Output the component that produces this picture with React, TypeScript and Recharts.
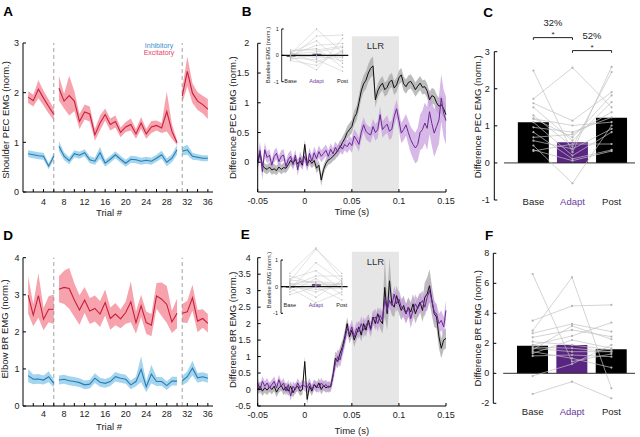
import React from 'react';
import {
  ComposedChart, Line, Area, Bar, Cell, XAxis, YAxis,
  ReferenceLine, ReferenceArea, ReferenceDot,
} from 'recharts';

const FONT = '"Liberation Sans", Arial, Helvetica, sans-serif';
const TXT = '#222';
const RED = '#c71f3e';
const RED_BAND = '#f7a3ad';
const BLUE = '#2a7cb2';
const BLUE_BAND = '#a4d5ee';
const PURPLE = '#6b2a93';
const PURPLE_BAND = '#c9a2df';
const PURPLE_BAR = '#5a2483';
const PURPLE_TXT = '#6f3a9c';
const GREY_BAND = '#ababab';

// ---------- A / D : EMG per trial ----------
const TRIALS = [1, 2, 3, 4, 5, 6, 7, 8, 9, 10, 11, 12, 13, 14, 15, 16, 17, 18, 19, 20, 21, 22, 23, 24, 25, 26, 27, 28, 29, 30, 31, 32, 33, 34, 35, 36];
const BLOCK_ENDS = [6, 30];
const BLOCK_EDGES = [6, 31];
const TRIAL_TICKS = [2, 4, 6, 8, 10, 12, 14, 16, 18, 20, 22, 24, 26, 28, 30, 32, 34, 36];

const A_EXC = [1.91, 1.84, 2.07, 1.89, 1.72, 1.56,
  2.09, 1.83, 1.94, 1.83, 1.42, 1.61, 1.57, 1.15, 1.39, 1.56, 1.36, 1.42, 1.2, 1.31, 1.36, 1.17, 1.39, 1.17, 1.31, 1.34, 1.29, 1.62, 1.22, 0.99,
  1.93, 2.43, 1.99, 1.83, 1.76, 1.67];
const A_EXC_SE = [0.12, 0.12, 0.18, 0.15, 0.14, 0.12,
  0.25, 0.15, 0.4, 0.2, 0.15, 0.15, 0.15, 0.12, 0.15, 0.12, 0.12, 0.12, 0.1, 0.1, 0.12, 0.1, 0.12, 0.1, 0.12, 0.1, 0.1, 0.4, 0.15, 0.05,
  0.15, 0.3, 0.2, 0.18, 0.18, 0.2];
const A_INH = [0.77, 0.75, 0.73, 0.72, 0.52, 0.72,
  0.92, 0.72, 0.63, 0.77, 0.74, 0.79, 0.65, 0.62, 0.79, 0.58, 0.66, 0.75, 0.66, 0.58, 0.66, 0.65, 0.62, 0.64, 0.62, 0.68, 0.75, 0.6, 0.68, 0.85,
  0.82, 0.85, 0.72, 0.7, 0.68, 0.68];
const A_INH_SE = [0.07, 0.07, 0.07, 0.07, 0.06, 0.07,
  0.1, 0.08, 0.07, 0.07, 0.07, 0.07, 0.07, 0.07, 0.12, 0.07, 0.07, 0.07, 0.07, 0.07, 0.07, 0.07, 0.07, 0.07, 0.07, 0.07, 0.08, 0.08, 0.08, 0.1,
  0.08, 0.1, 0.07, 0.06, 0.06, 0.06];

const D_EXC = [2.99, 2.45, 2.98, 2.34, 2.61, 2.61,
  3.15, 3.2, 3.17, 2.86, 2.59, 2.86, 2.56, 2.63, 2.48, 2.79, 2.36, 2.48, 2.35, 2.52, 2.81, 2.25, 2.7, 2.25, 2.18, 2.97, 2.88, 2.74, 2.27, 2.5,
  2.5, 2.54, 2.92, 2.29, 2.36, 2.23];
const D_EXC_SE = [0.5, 0.3, 0.6, 0.3, 0.35, 0.4,
  0.35, 0.45, 0.55, 0.45, 0.4, 0.35, 0.35, 0.35, 0.35, 0.35, 0.3, 0.3, 0.25, 0.3, 0.55, 0.3, 0.3, 0.3, 0.3, 0.35, 0.45, 0.5, 0.3, 0.4,
  0.25, 0.3, 0.35, 0.3, 0.25, 0.25];
const D_INH = [0.82, 0.72, 0.73, 0.7, 0.79, 0.61,
  0.7, 0.72, 0.68, 0.66, 0.63, 0.57, 0.59, 0.75, 0.64, 0.61, 0.66, 0.79, 0.75, 0.72, 0.57, 0.66, 0.99, 0.52, 0.86, 0.66, 0.66, 0.55, 0.67, 0.67,
  0.68, 0.79, 1.02, 0.76, 0.79, 0.75];
const D_INH_SE = [0.18, 0.13, 0.13, 0.12, 0.15, 0.12,
  0.12, 0.12, 0.12, 0.12, 0.12, 0.12, 0.12, 0.13, 0.12, 0.12, 0.12, 0.13, 0.12, 0.12, 0.12, 0.13, 0.35, 0.15, 0.25, 0.12, 0.12, 0.12, 0.12, 0.12,
  0.12, 0.15, 0.2, 0.13, 0.12, 0.12];

// ---------- B / E : difference EMG traces ----------
const TIME_MS = Array.from({ length: 81 }, (_, i) => -50 + i * 2.5); // 2.5 ms sample grid
const LLR = [0.05, 0.1];

const B_BLACK = [
  0.0, 0.15, -0.05, -0.1, -0.12, -0.08, -0.13, -0.11, -0.14, -0.08,
  -0.12, -0.09, -0.1, -0.04, 0.03, -0.02, 0.05, -0.03, 0.02, -0.05,
  0.3, -0.04, 0.04, -0.02, 0.03, -0.1, -0.05, -0.3, -0.12, -0.02,
  0.04, 0.06, 0.1, 0.14, 0.2, 0.25, 0.33, 0.4, 0.5, 0.55,
  0.6, 0.75, 0.82, 1.0, 1.2, 1.32, 1.38, 1.5, 1.58, 1.62,
  1.05, 1.2, 1.28, 1.33, 1.22, 1.26, 1.35, 1.38, 1.25, 1.3,
  1.42, 1.47, 1.32, 1.27, 1.34, 1.36, 1.3, 1.22, 1.28, 1.33,
  1.26, 1.27, 1.2, 1.05, 1.12, 1.1, 1.0, 0.94, 0.97, 0.9,
  0.8];
const B_BLACK_SE = [
  0.1, 0.1, 0.08, 0.08, 0.08, 0.08, 0.08, 0.08, 0.08, 0.08,
  0.08, 0.08, 0.08, 0.08, 0.08, 0.08, 0.08, 0.08, 0.08, 0.08,
  0.08, 0.08, 0.08, 0.08, 0.08, 0.08, 0.08, 0.1, 0.08, 0.08,
  0.08, 0.08, 0.08, 0.09, 0.09, 0.1, 0.1, 0.1, 0.1, 0.11,
  0.11, 0.12, 0.12, 0.13, 0.14, 0.14, 0.15, 0.15, 0.16, 0.16,
  0.13, 0.12, 0.12, 0.12, 0.12, 0.12, 0.12, 0.12, 0.12, 0.12,
  0.12, 0.12, 0.12, 0.12, 0.12, 0.12, 0.12, 0.12, 0.12, 0.12,
  0.12, 0.12, 0.12, 0.13, 0.13, 0.13, 0.14, 0.14, 0.15, 0.15,
  0.15];
const B_PURPLE = [
  0.02, 0.2, -0.16, 0.21, 0.08, 0.12, -0.05, 0.1, 0.15, 0.01,
  0.1, 0.12, -0.07, 0.05, 0.1, -0.04, 0.12, -0.13, 0.08, -0.02,
  0.1, -0.06, 0.15, 0.02, 0.16, 0.06, 0.18, 0.1, 0.15, 0.2,
  0.1, 0.22, 0.14, 0.25, 0.18, 0.28, 0.22, 0.3, 0.26, 0.33,
  0.28, 0.44, 0.38, 0.3, 0.5, 0.63, 0.52, 0.48, 0.46, 0.6,
  0.5, 0.55, 0.8, 0.55, 0.6, 0.64, 0.52, 0.56, 0.77, 0.9,
  0.7, 0.49, 0.55, 0.63, 0.5, 0.38, 0.3, 0.24, 0.3, 0.5,
  0.55, 0.66, 0.57, 0.85, 0.65, 0.49, 0.6, 0.71, 1.08, 0.82,
  0.7];
const B_PURPLE_SE = [
  0.12, 0.14, 0.14, 0.12, 0.1, 0.1, 0.1, 0.1, 0.1, 0.1,
  0.1, 0.1, 0.1, 0.1, 0.1, 0.1, 0.1, 0.1, 0.1, 0.1,
  0.1, 0.1, 0.1, 0.1, 0.1, 0.1, 0.1, 0.1, 0.1, 0.1,
  0.1, 0.1, 0.1, 0.1, 0.1, 0.1, 0.1, 0.1, 0.11, 0.11,
  0.12, 0.12, 0.12, 0.12, 0.13, 0.13, 0.13, 0.13, 0.13, 0.13,
  0.14, 0.14, 0.14, 0.14, 0.14, 0.15, 0.15, 0.15, 0.15, 0.15,
  0.16, 0.17, 0.18, 0.18, 0.2, 0.22, 0.24, 0.26, 0.28, 0.3,
  0.32, 0.34, 0.36, 0.38, 0.38, 0.4, 0.4, 0.4, 0.4, 0.4,
  0.4];

const E_BLACK = [
  0.0, 0.1, -0.05, 0.05, -0.02, 0.08, 0.0, 0.1, -0.08, 0.05,
  0.12, -0.02, 0.08, -0.05, 0.1, -0.1, 0.05, 0.1, -0.05, 0.0,
  0.85, -0.3, 0.1, -0.05, 0.15, 0.05, 0.2, 0.0, 0.12, 0.05,
  0.1, 0.08, 0.45, 0.95, 0.85, 1.1, 1.3, 1.6, 2.0, 1.6,
  1.8, 1.5, 1.7, 1.9, 1.65, 2.0, 1.8, 2.1, 1.85, 2.2,
  2.0, 2.3, 2.1, 2.0, 3.1, 2.3, 3.3, 2.6, 2.5, 2.85,
  2.6, 2.4, 2.55, 2.3, 2.5, 2.35, 2.6, 2.3, 2.5, 2.65,
  2.4, 2.8, 2.9, 3.15, 2.7, 2.3, 2.2, 1.6, 1.25, 1.5,
  1.55];
const E_BLACK_SE = [
  0.15, 0.15, 0.15, 0.15, 0.15, 0.15, 0.15, 0.15, 0.15, 0.15,
  0.15, 0.15, 0.15, 0.15, 0.15, 0.15, 0.15, 0.15, 0.15, 0.15,
  0.15, 0.15, 0.15, 0.15, 0.15, 0.15, 0.15, 0.15, 0.15, 0.15,
  0.15, 0.15, 0.2, 0.2, 0.2, 0.2, 0.2, 0.2, 0.2, 0.2,
  0.2, 0.2, 0.2, 0.2, 0.2, 0.2, 0.2, 0.2, 0.2, 0.2,
  0.2, 0.2, 0.25, 0.3, 0.9, 0.5, 0.7, 0.35, 0.3, 0.3,
  0.3, 0.3, 0.3, 0.3, 0.3, 0.3, 0.3, 0.3, 0.3, 0.3,
  0.35, 0.45, 0.5, 0.5, 0.45, 0.4, 0.35, 0.35, 0.3, 0.3,
  0.3];
const E_PURPLE = [
  0.2, 0.0, 0.25, 0.1, 0.2, 0.05, 0.15, 0.25, 0.05, 0.3,
  0.1, 0.2, -0.05, 0.15, -0.2, 0.1, 0.0, 0.2, 0.05, 0.15,
  0.1, 0.05, 0.2, 0.0, 0.15, 0.1, 0.05, 0.2, 0.1, 0.15,
  0.05, 0.1, 0.4, 0.8, 1.0, 0.9, 1.2, 1.5, 1.85, 1.7,
  1.9, 1.6, 1.85, 1.75, 2.0, 1.8, 1.95, 2.05, 1.8, 2.15,
  2.2, 2.0, 2.25, 2.1, 2.75, 2.4, 2.7, 2.55, 2.9, 2.6,
  2.75, 2.5, 2.45, 2.3, 2.5, 2.15, 2.4, 2.6, 2.45, 2.6,
  2.7, 2.5, 2.8, 3.0, 2.7, 2.35, 2.3, 2.0, 2.1, 1.9,
  2.4];
const E_PURPLE_SE = [
  0.15, 0.15, 0.15, 0.15, 0.15, 0.15, 0.15, 0.15, 0.15, 0.15,
  0.15, 0.15, 0.15, 0.15, 0.15, 0.15, 0.15, 0.15, 0.15, 0.15,
  0.15, 0.15, 0.15, 0.15, 0.15, 0.15, 0.15, 0.15, 0.15, 0.15,
  0.15, 0.15, 0.2, 0.22, 0.22, 0.22, 0.22, 0.22, 0.22, 0.22,
  0.22, 0.22, 0.22, 0.22, 0.22, 0.22, 0.22, 0.22, 0.22, 0.22,
  0.25, 0.25, 0.25, 0.25, 0.25, 0.25, 0.25, 0.25, 0.25, 0.25,
  0.28, 0.28, 0.28, 0.28, 0.28, 0.28, 0.28, 0.28, 0.28, 0.28,
  0.3, 0.3, 0.3, 0.3, 0.3, 0.3, 0.3, 0.3, 0.3, 0.3,
  0.3];

// ---------- insets: baseline EMG per subject ----------
const COND = ['Base', 'Adapt', 'Post'];
const COND_X = [1, 2, 3];

const B_INSET_BASE = [0.05, -0.1, 0.1, -0.05, 0.0, 0.15, -0.2, 0.05, -0.15, 0.1, 0.0, -0.1, 0.2, -0.05, 0.08];
const B_INSET_ADAPT = [1.0, 0.73, 0.55, -0.55, 0.38, 0.26, -0.38, 0.13, 0.06, -0.26, -0.04, -0.17, 0.2, 0.0, -0.1];
const B_INSET_POST = [0.1, 0.77, -0.3, 0.64, 0.45, -0.45, 0.2, 0.3, -0.1, 0.15, 0.05, -0.6, 0.35, -0.2, -0.05];
const B_INSET_MEAN = [-0.05, 0.06, 0.01];

const E_INSET_BASE = [0.5, 0.2, -0.1, 0.3, 0.0, -0.2, 0.1, 0.4, -0.3, 0.05, 0.15, -0.05, 0.25, 0.1, 0.0];
const E_INSET_ADAPT = [1.45, 1.4, 0.9, 0.6, 0.4, 0.3, 0.2, 0.1, 0.0, -0.2, -0.4, -0.6, 0.15, 0.05, -0.1];
const E_INSET_POST = [0.3, 0.5, 0.2, -0.1, 0.4, -0.3, 0.1, 0.0, -0.5, 0.15, 0.25, -0.2, 0.05, 0.1, -0.05];
const E_INSET_MEAN = [-0.03, 0.1, 0.01];

// ---------- C / F : LLR amplitude per subject ----------
const C_BASE = [2.49, 1.73, 1.5, 1.61, 1.28, 1.19, 1.1, 0.96, 0.83, 0.69, 0.6, 0.47, 0.35, 0.32, 1.2];
const C_ADAPT = [0.29, 2.57, 0.6, 1.14, 0.44, 1.01, 0.2, 0.83, 0.11, 0.77, 0.38, -0.55, 0.06, 0.51, 0.69];
const C_POST = [2.59, 1.5, 1.64, 1.91, 2.45, 1.1, 0.83, 1.23, 0.35, 1.37, 0.92, 1.01, 0.32, 0.51, 1.82];
const C_MEAN = [1.1, 0.56, 1.22];
const C_BRACKETS = [
  { from: 1, to: 2, y: 3.38, pct: '32%' },
  { from: 2, to: 3, y: 3.03, pct: '52%' },
];

const F_BASE = [6.62, 2.84, 3.51, 2.67, 2.4, 2.11, 1.89, 1.67, 1.56, 1.44, 1.33, 1.16, -0.18, -1.38, 1.75];
const F_ADAPT = [0.78, 6.4, 4.49, 3.29, 2.89, 1.89, 2.49, 1.44, 3.16, 1.0, 2.22, 1.22, 0.62, -0.56, 1.67];
const F_POST = [1.29, -1.0, 4.56, 2.78, 2.44, 1.56, 3.38, 1.44, 2.27, 0.38, 1.67, 1.11, 1.89, -1.67, 1.44];
const F_MEAN = [1.84, 1.89, 1.6];

// ---------- helpers ----------
const band = (v: number, se: number) => [v - se, v + se];

function trialRows(exc: number[], excSe: number[], inh: number[], inhSe: number[]) {
  const rows: any[] = [];
  TRIALS.forEach((t, i) => {
    rows.push({ t, exc: exc[i], inh: inh[i], excBand: band(exc[i], excSe[i]), inhBand: band(inh[i], inhSe[i]) });
    if (BLOCK_ENDS.includes(t)) rows.push({ t: t + 0.5 }); // break the lines between blocks
  });
  return rows;
}

function traceRows(bk: number[], bkSe: number[], pu: number[], puSe: number[]) {
  return TIME_MS.map((ms, i) => ({
    t: ms / 1000,
    bk: bk[i],
    pu: pu[i],
    bkBand: band(bk[i], bkSe[i]),
    puBand: band(pu[i], puSe[i]),
  }));
}

function condRows(subj: number[][], means: number[]) {
  return COND.map((name, i) => {
    const row: any = { x: COND_X[i], name, mean: means[i] };
    subj[i].forEach((v, k) => { row['s' + k] = v; });
    return row;
  });
}

const yTitle = (text: string, dx: number, dy = 0, size = 9.5) => (props: any) => {
  const vb = props.viewBox;
  const x = vb.x + dx;
  const y = vb.y + vb.height / 2 + dy;
  return (
    <text x={x} y={y} transform={`rotate(-90, ${x}, ${y})`} textAnchor="middle" dominantBaseline="central" fontSize={size} fill={TXT}>
      {text}
    </text>
  );
};

const xTitle = (text: string, dy: number, dx = 0) => (props: any) => {
  const vb = props.viewBox;
  return (
    <text x={vb.x + vb.width / 2 + dx} y={vb.y + dy} textAnchor="middle" dominantBaseline="central" fontSize={9.5} fill={TXT}>
      {text}
    </text>
  );
};

const condTick = (size: number) => (props: any) => {
  const { x, y, payload } = props;
  const name = COND[payload.value - 1];
  return (
    <text x={x} y={y} dy="0.71em" textAnchor="middle" fontSize={size} fill={name === 'Adapt' ? PURPLE_TXT : TXT}>
      {name}
    </text>
  );
};

const TICK = { fontSize: 9, fill: TXT };
const SUBJ_KEYS = C_BASE.map((_, k) => 's' + k);

function TrialPanel(p: any) {
  const rows = trialRows(p.exc, p.excSe, p.inh, p.inhSe);
  return (
    <div style={{ position: 'absolute', left: p.left, top: p.top }}>
      <ComposedChart width={220} height={p.height} data={rows} margin={{ top: p.mt, right: 7, bottom: 0, left: 0 }}>
        <XAxis type="number" dataKey="t" domain={[0, 37]} ticks={TRIAL_TICKS} interval={0}
          tickFormatter={(v: number) => (v % 4 === 0 ? String(v) : '')}
          stroke="#000" tick={TICK} tickSize={-3} tickMargin={p.xTickMargin} height={p.xh}
          label={xTitle('Trial #', p.xTitleDy, -9)} />
        <YAxis type="number" domain={[0, p.yMax]} ticks={p.yTicks} allowDataOverflow
          stroke="#000" tick={TICK} tickSize={-3} tickMargin={p.yTickMargin} width={23}
          label={yTitle(p.title, 5, p.titleDy)} />
        {BLOCK_EDGES.map((x) => (
          <ReferenceLine key={x} x={x} stroke="#8a8a8a" strokeWidth={0.8} strokeDasharray="4 3" />
        ))}
        <Area dataKey="excBand" stroke="none" fill={RED_BAND} fillOpacity={1} isAnimationActive={false} />
        <Line dataKey="exc" stroke={RED} strokeWidth={1.1} dot={false} isAnimationActive={false} />
        <Area dataKey="inhBand" stroke="none" fill={BLUE_BAND} fillOpacity={1} isAnimationActive={false} />
        <Line dataKey="inh" stroke={BLUE} strokeWidth={1.1} dot={false} isAnimationActive={false} />
      </ComposedChart>
    </div>
  );
}

function TracePanel(p: any) {
  const rows = traceRows(p.bk, p.bkSe, p.pu, p.puSe);
  return (
    <div style={{ position: 'absolute', left: 210, top: p.top }}>
      <ComposedChart width={250} height={p.height} data={rows} margin={{ top: p.mt, right: 14, bottom: 0, left: 0 }}>
        <XAxis type="number" dataKey="t" domain={[-0.05, 0.15]} ticks={[-0.05, 0, 0.05, 0.1, 0.15]} interval={0}
          stroke="#000" tick={TICK} tickSize={-3} tickMargin={8.8} height={p.xh}
          label={xTitle('Time (s)', p.xTitleDy)} />
        <YAxis type="number" domain={p.yDomain} ticks={p.yTicks} interval={0} allowDataOverflow
          stroke="#000" tick={TICK} tickSize={-3} tickMargin={p.yTickMargin} width={47.7}
          label={yTitle(p.title, 23, p.titleDy)} />
        <ReferenceArea x1={LLR[0]} x2={LLR[1]} y1={p.yDomain[0]} y2={p.llrTop} ifOverflow="visible"
          fill="#e6e6e6" fillOpacity={1} stroke="none"
          label={{ value: 'LLR', position: 'insideTop', offset: p.llrOffset, fontSize: 9.5, fill: '#333' }} />
        <Area dataKey="bkBand" stroke="none" fill={GREY_BAND} fillOpacity={0.8} isAnimationActive={false} />
        <Area dataKey="puBand" stroke="none" fill={PURPLE_BAND} fillOpacity={0.75} isAnimationActive={false} />
        <Line dataKey="bk" stroke="#111" strokeWidth={1} dot={false} isAnimationActive={false} />
        <Line dataKey="pu" stroke={PURPLE} strokeWidth={1} dot={false} isAnimationActive={false} />
      </ComposedChart>
    </div>
  );
}

function Inset(p: any) {
  const rows = condRows([p.base, p.adapt, p.post], p.means);
  const x0 = 0.66;
  return (
    <div style={{ position: 'absolute', left: 255, top: p.top }}>
      <ComposedChart width={100} height={80} data={rows} margin={{ top: p.mt, right: p.mr, bottom: 0, left: 0 }}>
        <XAxis type="number" dataKey="x" domain={[x0, 3.22]} ticks={COND_X} interval={0}
          axisLine={false} tickLine={false} tickSize={0} tickMargin={p.xTickMargin} height={p.xh} tick={condTick(5.5)} />
        <YAxis type="number" domain={[-1, 1.5]} ticks={[-1, 0, 1]} interval={0} axisLine={false}
          stroke="#000" tick={{ fontSize: 5.5, fill: TXT }} tickSize={-2} tickMargin={5} width={p.yw}
          label={yTitle('Baseline EMG (norm.)', 13.5, p.titleDy, 5.7)} />
        <ReferenceLine segment={[{ x: x0, y: -1 }, { x: x0, y: 1 }]} stroke="#000" strokeWidth={0.8} />
        {SUBJ_KEYS.map((k) => (
          <Line key={k} dataKey={k} stroke="#c4c4c4" strokeWidth={0.5}
            dot={{ r: 0.7, fill: '#b0b0b0', stroke: 'none' }} isAnimationActive={false} />
        ))}
        <ReferenceLine y={0} stroke="#111" strokeWidth={1.2} />
        <Bar dataKey="mean" barSize={9} isAnimationActive={false}>
          {rows.map((r) => (
            <Cell key={r.name} fill={r.name === 'Adapt' ? PURPLE_BAR : r.name === 'Base' ? '#111' : '#666'} />
          ))}
        </Bar>
      </ComposedChart>
    </div>
  );
}

function BarPanel(p: any) {
  const rows = condRows([p.base, p.adapt, p.post], p.means);
  return (
    <div style={{ position: 'absolute', left: 450, top: p.top }}>
      <ComposedChart width={190} height={p.height} data={rows} margin={{ top: p.mt, right: 3, bottom: 0, left: 0 }}>
        <XAxis type="number" dataKey="x" domain={[0, 3.65]} ticks={COND_X} interval={0}
          axisLine={false} tickLine={false} tickSize={0} tickMargin={p.xTickMargin} height={p.xh} tick={condTick(9.5)} />
        <YAxis type="number" domain={p.yDomain} ticks={p.yTicks} interval={0} allowDataOverflow
          stroke="#000" tick={TICK} tickSize={-3} tickMargin={p.yTickMargin} width={p.yw}
          label={yTitle(p.title, 28, p.titleDy)} />
        <Bar dataKey="mean" barSize={31} isAnimationActive={false}>
          {rows.map((r) => (
            <Cell key={r.name} fill={r.name === 'Adapt' ? PURPLE_BAR : '#000'} />
          ))}
        </Bar>
        <ReferenceLine segment={[{ x: 0.25, y: 0 }, { x: 3.6, y: 0 }]} stroke="#333" strokeWidth={1} />
        {SUBJ_KEYS.map((k) => (
          <Line key={k} dataKey={k} stroke="#c2c2c2" strokeWidth={0.7}
            dot={{ r: 1.1, fill: '#b4b4b4', stroke: 'none' }} isAnimationActive={false} />
        ))}
        {(p.brackets || []).map((b: any) => [
          <ReferenceLine key={b.pct + 'h'} segment={[{ x: b.from, y: b.y }, { x: b.to, y: b.y }]} ifOverflow="visible" stroke="#222" strokeWidth={1} />,
          <ReferenceLine key={b.pct + 'l'} segment={[{ x: b.from, y: b.y }, { x: b.from, y: b.y - 0.06 }]} ifOverflow="visible" stroke="#222" strokeWidth={1} />,
          <ReferenceLine key={b.pct + 'r'} segment={[{ x: b.to, y: b.y }, { x: b.to, y: b.y - 0.06 }]} ifOverflow="visible" stroke="#222" strokeWidth={1} />,
          <ReferenceDot key={b.pct + 'p'} x={(b.from + b.to) / 2} y={b.y + 0.4} r={0} ifOverflow="visible"
            label={{ value: b.pct, position: 'center', fontSize: 9.5, fill: TXT }} />,
          <ReferenceDot key={b.pct + 's'} x={(b.from + b.to) / 2} y={b.y + 0.08} r={0} ifOverflow="visible"
            label={{ value: '*', position: 'center', fontSize: 8, fill: TXT }} />,
        ])}
      </ComposedChart>
    </div>
  );
}

const letter = (ch: string, left: number, top: number) => (
  <div key={ch} style={{ position: 'absolute', left, top, fontSize: 13.5, lineHeight: '13.5px', fontWeight: 'bold', color: '#000' }}>{ch}</div>
);

export default function App() {
  return (
    <div style={{ position: 'absolute', left: 0, top: 0, width: 640, height: 437, background: '#fff', fontFamily: FONT, overflow: 'hidden' }}>
      <TrialPanel left={0} top={0} height={220} mt={43} xh={28} exc={A_EXC} excSe={A_EXC_SE} inh={A_INH} inhSe={A_INH_SE}
        yMax={3} yTicks={[0, 1, 2, 3]} title="Shoulder PEC EMG (norm.)" titleDy={2.5}
        yTickMargin={7} xTickMargin={9.5} xTitleDy={20.5} />
      <TrialPanel left={0} top={220} height={217} mt={37.7} xh={31} exc={D_EXC} excSe={D_EXC_SE} inh={D_INH} inhSe={D_INH_SE}
        yMax={4} yTicks={[0, 1, 2, 3, 4]} title="Elbow BR EMG (norm.)" titleDy={-3}
        yTickMargin={6.5} xTickMargin={8.1} xTitleDy={20.7} />

      <div style={{ position: 'absolute', left: 134, top: 42, width: 50, textAlign: 'center', fontSize: 7, lineHeight: '7px', color: '#3b8fcc' }}>Inhibitory</div>
      <div style={{ position: 'absolute', left: 134, top: 49, width: 50, textAlign: 'center', fontSize: 7, lineHeight: '7px', color: '#e5486a' }}>Excitatory</div>

      <TracePanel top={0} height={220} mt={43.3} xh={28} bk={B_BLACK} bkSe={B_BLACK_SE} pu={B_PURPLE} puSe={B_PURPLE_SE}
        yDomain={[-0.5, 2]} yTicks={[0, 0.5, 1, 1.5, 2]} llrTop={2.12} llrOffset={5.6}
        title="Difference PEC EMG (norm.)" titleDy={0} yTickMargin={11.5} xTitleDy={19.7} />
      <TracePanel top={220} height={217} mt={37.7} xh={31} bk={E_BLACK} bkSe={E_BLACK_SE} pu={E_PURPLE} puSe={E_PURPLE_SE}
        yDomain={[-0.5, 4]} yTicks={[-0.5, 0, 0.5, 1, 1.5, 2, 2.5, 3, 3.5, 4]} llrTop={4.18} llrOffset={6.6}
        title="Difference BR EMG (norm.)" titleDy={-2} yTickMargin={10} xTitleDy={24} />

      <Inset top={10} mt={5.8} mr={6.7} xh={8.3} yw={26.7} xTickMargin={-3} titleDy={6.3}
        base={B_INSET_BASE} adapt={B_INSET_ADAPT} post={B_INSET_POST} means={B_INSET_MEAN} />
      <Inset top={240} mt={6.7} mr={7.4} xh={6.7} yw={26} xTickMargin={-10.3} titleDy={0}
        base={E_INSET_BASE} adapt={E_INSET_ADAPT} post={E_INSET_POST} means={E_INSET_MEAN} />

      <BarPanel top={0} height={220} mt={51.7} xh={20} yw={44.3} yDomain={[-1, 3]} yTicks={[-1, 0, 1, 2, 3]}
        base={C_BASE} adapt={C_ADAPT} post={C_POST} means={C_MEAN} brackets={C_BRACKETS}
        title="Difference PEC EMG (norm.)" titleDy={-9} yTickMargin={7.5} xTickMargin={-2.2} />
      <BarPanel top={220} height={217} mt={33.3} xh={33.7} yw={43.3} yDomain={[-2, 8]} yTicks={[-2, 0, 2, 4, 6, 8]}
        base={F_BASE} adapt={F_ADAPT} post={F_POST} means={F_MEAN}
        title="Difference BR EMG (norm.)" titleDy={0} yTickMargin={7} xTickMargin={5.2} />

      {letter('A', 3.3, 5.3)}
      {letter('B', 241.7, 5.3)}
      {letter('C', 483.3, 5.9)}
      {letter('D', 3.3, 228.5)}
      {letter('E', 240.7, 227.9)}
      {letter('F', 485, 228.5)}
    </div>
  );
}
